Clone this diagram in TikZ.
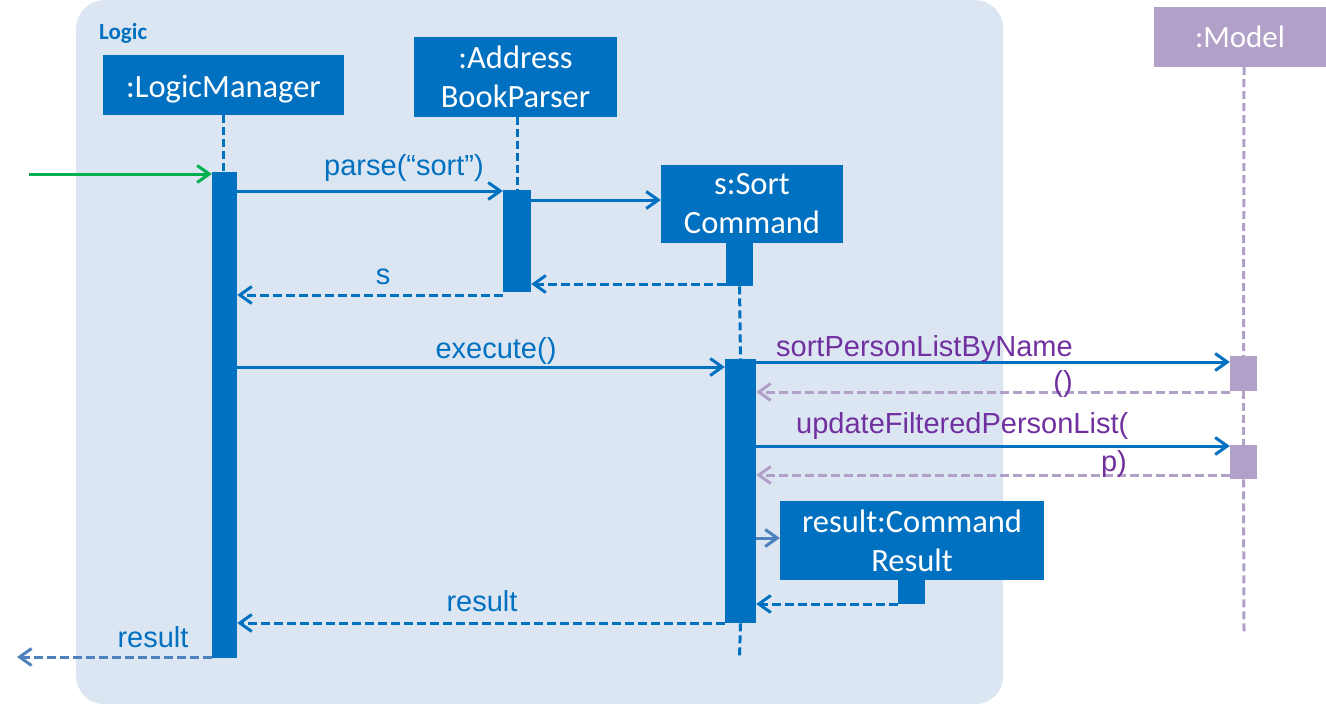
\documentclass[tikz,border=0pt]{standalone}
\usepackage{fontspec}
\setmainfont{Liberation Sans}
\newfontfamily\carlito{Carlito}
\usetikzlibrary{arrows.meta}
\definecolor{boxblue}{HTML}{0070C0}
\definecolor{framefill}{HTML}{DCE6F2}
\definecolor{modelpurple}{HTML}{B1A0C7}
\definecolor{labelpurple}{HTML}{7030A0}
\definecolor{callgreen}{HTML}{00B050}
\definecolor{softblue}{HTML}{4F81BD}
\begin{document}
\begin{tikzpicture}[x=1pt,y=-1pt,
  objbox/.style={draw=none, fill=boxblue, text=white, inner sep=0pt, align=center,
    font=\carlito\fontsize{32.5}{39}\selectfont},
  modelbox/.style={objbox, fill=modelpurple, font=\carlito\fontsize{31}{37}\selectfont},
  act/.style={draw=none, fill=boxblue, inner sep=0pt, anchor=north},
  actm/.style={act, fill=modelpurple},
  life/.style={draw=boxblue, line width=3pt, dash pattern=on 8pt off 4pt},
  lifem/.style={life, draw=modelpurple},
  msg/.style={draw=boxblue, line width=3pt, -{Straight Barb[length=12pt,width=17pt]}},
  ret/.style={msg, dash pattern=on 9pt off 4pt},
  retm/.style={ret, draw=modelpurple},
  lbl/.style={anchor=base, inner sep=0pt, text=boxblue, font=\fontsize{29}{34}\selectfont},
  lblp/.style={lbl, text=labelpurple}
]
\useasboundingbox (0,0) rectangle (1326,704);
% frame
\node[draw=none, fill=framefill, rounded corners=28pt, minimum width=927, minimum height=704,
  anchor=north west, inner sep=0pt] (logicframe) at (76,0) {};
\node[anchor=base west, inner sep=0pt, text=boxblue, font=\carlito\bfseries\fontsize{23}{28}\selectfont]
  (logiclabel) at (99,39) {Logic};
% objects
\node[objbox, minimum width=241, minimum height=60, text height=24pt, text depth=0pt] (lm) at (223.5,85) {:LogicManager};
\node[objbox, minimum width=203, minimum height=80] (abp) at (515.5,76.5) {:Address\\BookParser};
\node[objbox, minimum width=182, minimum height=78] (sc) at (752,203.5) {s:Sort\\Command};
\node[objbox, minimum width=264, minimum height=79] (res) at (912,540.5) {result:Command\\Result};
\node[modelbox, minimum width=172, minimum height=60] (model) at (1240,37) {:Model};
% activations
\node[act, minimum width=25, minimum height=486] (lmA) at (224.5,172) {};
\node[act, minimum width=28, minimum height=102] (abpA) at (517,190) {};
\node[act, minimum width=27, minimum height=45] (scA0) at (739.5,241) {};
\node[act, minimum width=31, minimum height=264] (scA) at (740.5,359) {};
\node[act, minimum width=27, minimum height=24] (rA) at (911.5,580) {};
\node[actm, minimum width=27, minimum height=35] (mA1) at (1243.5,356) {};
\node[actm, minimum width=27, minimum height=34] (mA2) at (1243.5,445) {};
% lifelines
\coordinate (scEnd) at (739.5,657);
\coordinate (mEnd) at (1244,632);
\draw[life] (lm.south) -- (lm.south |- lmA.north);
\draw[life] (abpA.north |- abp.south) -- (abpA.north);
\draw[life] (scA0.south) -- (scA.north);
\draw[life] (scA.south) -- (scEnd);
\draw[lifem] (mEnd |- model.south) -- (mA1.north);
\draw[lifem] (mA1.south) -- (mA2.north);
\draw[lifem] (mA2.south) -- (mEnd);
% messages
\coordinate (gStart) at (29,174);
\draw[msg, draw=callgreen] (gStart) -- (gStart -| lmA.west);
\draw[msg] (lmA.east |- 0,191) -- (abpA.west |- 0,191);
\draw[msg] (abpA.east |- 0,200) -- (sc.west |- 0,200);
\draw[ret] (scA0.west |- 0,284) -- (abpA.east |- 0,284);
\draw[ret] (abpA.west |- 0,295) -- (lmA.east |- 0,295);
\draw[msg] (lmA.east |- 0,367) -- (scA.west |- 0,367);
\draw[msg] (scA.east |- 0,362) -- (mA1.west |- 0,362);
\draw[retm] (mA1.west |- 0,392) -- (scA.east |- 0,392);
\draw[msg] (scA.east |- 0,446) -- (mA2.west |- 0,446);
\draw[retm] (mA2.west |- 0,475) -- (scA.east |- 0,475);
\draw[msg, draw=softblue] (scA.east |- 0,538) -- (res.west |- 0,538);
\draw[ret] (rA.west |- 0,604) -- (scA.east |- 0,604);
\draw[ret] (scA.west |- 0,623) -- (lmA.east |- 0,623);
\coordinate (outEnd) at (17,657);
\draw[ret, draw=softblue] (lmA.west |- outEnd) -- (outEnd);
% labels
\node[lbl] (tParse) at (404,175) {parse(“sort”)};
\node[lbl] (tS) at (383,284) {s};
\node[lbl] (tExec) at (496,358) {execute()};
\node[lbl] (tRes1) at (482,611) {result};
\node[lbl] (tRes2) at (153,647) {result};
\node[lblp, anchor=base west] (tSort) at (776,356) {sortPersonListByName};
\node[lblp] (tSortP) at (1063,391) {()};
\node[lblp, anchor=base west] (tUpd) at (796,433) {updateFilteredPersonList(};
\node[lblp] (tUpdP) at (1114,471) {p)};
\end{tikzpicture}
\end{document}
